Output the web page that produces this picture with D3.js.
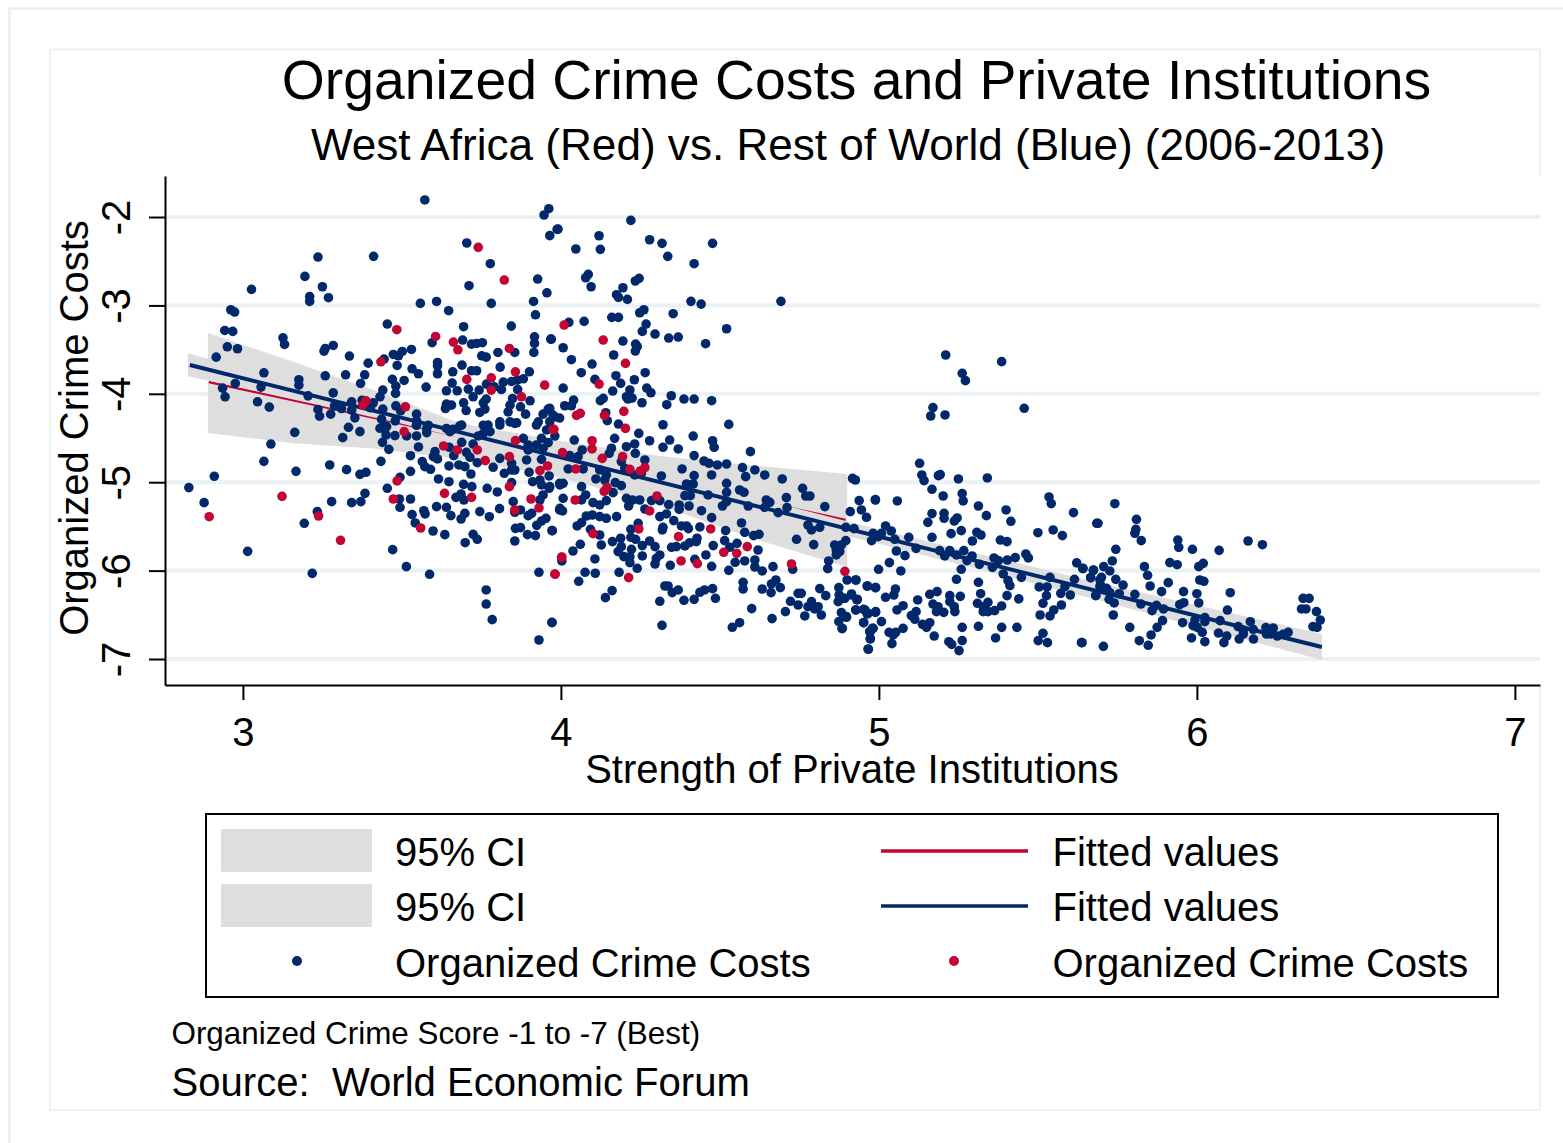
<!DOCTYPE html>
<html>
<head>
<meta charset="utf-8">
<script src="https://cdn.jsdelivr.net/npm/d3@7"></script>
<style>
	html, body { margin: 0; padding: 0; background: #fff; }
	svg { display: block; }
	text { font-family: "Liberation Sans", Arial, sans-serif; fill: #000; white-space: pre; }
</style>
</head>
<body>
<script>
// values: [strength of private institutions, organized crime costs]
const restOfWorld = [
[3.572,-1.807],[3.962,-1.906],[3.947,-1.977],[3.988,-2.14],[3.965,-2.21],[3.704,-2.294],[3.778,-2.528],[3.411,-2.445],[3.236,-2.453],[3.195,-2.672],
[3.25,-2.789],[3.21,-2.9],[3.21,-2.955],[3.269,-2.913],[3.027,-2.819],[2.962,-3.049],[2.974,-3.075],[2.943,-3.283],[2.968,-3.294],[2.951,-3.468],
[2.983,-3.49],[2.916,-3.585],[3.126,-3.366],[3.131,-3.441],[3.927,-2.702],[3.711,-2.777],[3.956,-2.857],[3.558,-2.977],[3.609,-2.955],[3.647,-3.06],
[3.781,-2.977],[3.914,-2.955],[3.92,-3.106],[3.454,-3.211],[3.694,-3.241],[3.844,-3.234],[3.691,-3.392],[3.595,-3.422],[3.719,-3.438],[3.735,-3.43],
[3.753,-3.422],[3.802,-3.532],[3.855,-3.532],[3.917,-3.355],[3.917,-3.43],[3.915,-3.532],[3.968,-3.381],[3.255,-3.517],[3.259,-3.487],[3.284,-3.453],
[3.335,-3.573],[3.394,-3.653],[3.444,-3.607],[3.473,-3.555],[3.489,-3.57],[3.501,-3.521],[3.53,-3.498],[3.485,-3.679],[3.612,-3.645],[3.612,-3.683],
[3.612,-3.773],[3.689,-3.675],[3.751,-3.57],[3.765,-3.585],[3.719,-3.739],[3.735,-3.739],[3.66,-3.751],[3.809,-3.698],[3.901,-3.751],[3.532,-3.717],
[3.552,-3.773],[3.47,-3.837],[3.507,-3.849],[3.383,-3.785],[3.323,-3.785],[3.37,-3.883],[3.259,-3.796],[3.066,-3.762],[3.176,-3.841],[3.176,-3.902],
[2.976,-3.883],[2.936,-3.936],[2.944,-4.034],[3.057,-3.924],[3.046,-4.09],[3.083,-4.151],[3.205,-4.023],[3.284,-3.989],[3.236,-4.177],[3.241,-4.253],
[3.276,-4.23],[3.288,-4.136],[3.31,-4.166],[3.342,-4.09],[3.342,-4.185],[3.352,-4.272],[3.375,-4.072],[3.401,-4.158],[3.41,-4.102],[3.431,-4.034],
[3.44,-3.958],[3.44,-4.173],[3.436,-4.287],[3.481,-3.913],[3.48,-3.996],[3.481,-4.136],[3.496,-4.192],[3.479,-4.306],[3.546,-4.23],[3.546,-4.306],
[3.576,-3.924],[3.64,-3.966],[3.658,-3.879],[3.674,-3.966],[3.709,-3.947],[3.743,-3.958],[3.724,-4.034],[3.765,-4.06],[3.64,-4.117],[3.637,-4.166],
[3.656,-4.128],[3.694,-4.102],[3.702,-4.189],[3.745,-4.211],[3.761,-4.173],[3.756,-4.102],[3.766,-3.89],[3.79,-3.92],[3.813,-3.951],[3.819,-3.868],
[3.845,-3.86],[3.863,-3.845],[3.882,-3.83],[3.864,-3.951],[3.903,-4.079],[3.848,-4.053],[3.84,-4.128],[3.834,-4.204],[3.873,-4.147],[3.889,-4.23],
[3.96,-4.173],[3.944,-4.23],[3.929,-4.317],[3.981,-4.26],[3.808,-4.317],[3.84,-4.317],[3.861,-4.328],[3.756,-4.355],[3.682,-4.362],[3.64,-4.392],
[3.546,-4.355],[3.583,-4.355],[3.441,-4.373],
[3.163,-4.436],[3.088,-4.568],[3.066,-4.764],[3.167,-4.877],[2.91,-4.933],[2.83,-5.061],[2.878,-5.231],[3.015,-5.782],[3.234,-5.333],[3.193,-5.465],
[3.218,-6.031],[3.273,-4.805],[3.326,-4.858],[3.368,-4.911],[3.387,-4.888],[3.434,-4.764],[3.314,-4.496],[3.332,-4.379],[3.368,-4.428],[3.279,-5.22],
[3.342,-5.231],[3.371,-5.22],[3.384,-5.126],[3.471,-5.763],[3.514,-5.955],[3.587,-6.042],[3.765,-6.219],[3.765,-6.378],[3.784,-6.555],[3.931,-6.019],
[3.972,-6.585],[3.931,-6.785],[3.454,-5.069],[3.494,-4.945],[3.492,-5.19],[3.494,-5.284],[3.527,-5.19],[3.527,-4.877],[3.527,-4.7],[3.552,-4.601],
[3.431,-4.39],[3.45,-4.466],[3.452,-4.371],[3.478,-4.473],[3.439,-4.549],[3.459,-4.628],[3.515,-4.477],[3.546,-4.477],[3.578,-4.439],[3.546,-4.353],
[3.604,-4.654],[3.599,-4.711],[3.612,-4.737],[3.564,-4.767],[3.572,-4.824],[3.59,-4.854],[3.648,-4.816],[3.649,-4.605],[3.663,-4.7],[3.688,-4.549],
[3.703,-4.662],[3.714,-4.718],[3.679,-4.805],[3.698,-4.824],[3.737,-4.779],[3.787,-4.831],[3.808,-4.73],[3.717,-4.907],[3.724,-4.568],[3.615,-4.963],
[3.648,-4.994],[3.694,-5.024],[3.72,-5.05],[3.768,-5.069],[3.8,-5.11],[3.686,-5.133],[3.67,-5.171],[3.695,-5.201],[3.609,-5.276],[3.64,-5.284],
[3.569,-5.322],[3.573,-5.359],[3.532,-5.367],[3.542,-5.461],[3.598,-5.552],[3.635,-5.593],[3.654,-5.378],[3.686,-5.416],[3.698,-5.352],[3.745,-5.333],
[3.775,-5.39],[3.807,-5.299],[3.85,-5.22],[3.873,-5.314],[3.855,-5.34],[3.897,-5.378],[3.908,-5.352],[3.953,-5.408],[3.939,-5.439],[3.924,-5.488],
[3.857,-5.522],[3.873,-5.514],[3.895,-5.593],[3.92,-5.604],[3.972,-5.548],[3.855,-5.665],[3.724,-5.589],[3.737,-5.646],[3.699,-5.684],[3.822,-4.899],
[3.845,-4.862],[3.855,-4.862],[3.845,-4.786],[3.845,-5.005],[3.9,-4.888],[3.892,-4.748],[3.939,-4.741],[3.963,-4.929],[3.911,-4.994],[3.934,-4.975],
[3.939,-5.031],[3.963,-5.069],[3.944,-5.144],[3.934,-5.201],[3.997,-5.031],[3.997,-5.295],[3.882,-4.503],[3.897,-4.579],[3.897,-4.635],[3.923,-4.579],
[3.944,-4.617],[3.96,-4.552],[3.939,-4.503],[3.923,-4.353],[3.955,-4.409],[3.855,-4.334],[3.808,-4.353],[3.771,-4.353],[3.756,-4.447],[3.777,-4.428],
[3.74,-4.477],[3.688,-4.353],[3.661,-4.402],[3.651,-4.428],[3.578,-4.39],
[4.22,-2.038],[3.991,-2.136],[4.12,-2.212],[4.279,-2.257],[4.318,-2.298],[4.477,-2.298],[4.047,-2.362],[4.124,-2.366],[4.336,-2.445],[4.419,-2.528],
[4.086,-2.649],[4.078,-2.687],[4.095,-2.789],[4.246,-2.694],[4.234,-2.724],[4.195,-2.8],[4.175,-2.879],[4.181,-2.909],[4.209,-2.932],[4.409,-2.954],
[4.441,-2.985],[4.692,-2.954],[4.261,-3.049],[4.248,-3.083],[4.353,-3.094],[4.16,-3.135],[4.181,-3.135],[4.025,-3.192],[4.073,-3.181],[4.268,-3.211],
[4.256,-3.294],[4.296,-3.324],[4.339,-3.369],[4.369,-3.358],[4.521,-3.264],[4.455,-3.433],[3.97,-3.381],[4.007,-3.479],[4.195,-3.403],[4.235,-3.437],
[4.24,-3.467],[4.234,-3.516],[4.166,-3.561],[4.033,-3.614],[4.098,-3.663],[4.064,-3.761],[4.107,-3.837],[4.173,-3.795],[4.265,-3.761],[4.231,-3.841],
[4.188,-3.882],[4.007,-3.935],[4.163,-3.969],[4.217,-3.957],[4.27,-3.935],[4.283,-3.988],[4.206,-4.033],[4.224,-4.048],[4.211,-4.059],[4.255,-4.101],
[4.347,-4.022],[4.387,-4.059],[4.419,-4.059],[4.474,-4.078],[4.333,-4.123],[4.133,-4.052],[4.124,-4.078],[4.04,-4.071],[4.012,-4.135],[4.033,-4.135],
[3.965,-4.165],[3.975,-4.24],[3.996,-4.274],[3.965,-4.316],[3.981,-4.478],[4.146,-4.304],[4.181,-4.342],[4.141,-4.214],[4.321,-4.35],[4.528,-4.346],
[4.245,-4.448],[4.042,-4.523],[4.169,-4.504],[4.279,-4.531],[4.342,-4.523],[4.416,-4.478],[4.477,-4.531],
[4.321,-4.605],[4.369,-4.624],[4.482,-4.605],[4.596,-4.654],[4.419,-4.699],[4.45,-4.76],[4.466,-4.786],[4.492,-4.805],[4.521,-4.794],[4.381,-4.85],
[4.571,-4.835],[4.61,-4.861],[4.641,-4.918],[4.581,-4.937],[4.474,-4.918],[4.419,-4.926],[4.316,-4.929],[4.696,-4.963],[4.521,-5.012],[4.395,-5.02],
[4.416,-5.02],[4.562,-5.088],[4.576,-5.114],[4.521,-5.114],[4.39,-5.152],[4.407,-5.152],[4.463,-5.144],[4.76,-5.069],[4.77,-5.156],[4.783,-5.156],
[4.709,-5.174],[4.646,-5.201],[4.657,-5.227],[4.83,-5.276],[4.711,-5.288],[4.641,-5.284],[4.683,-5.344],[4.589,-5.269],[4.521,-5.22],[4.508,-5.269],
[4.442,-5.322],[4.403,-5.269],[4.372,-5.257],[4.372,-5.307],[4.339,-5.254],[4.474,-5.401],[4.568,-5.461],[4.578,-5.567],[4.518,-5.548],[4.437,-5.506],
[4.379,-5.495],[4.395,-5.495],[4.401,-5.525],[4.355,-5.435],[4.332,-5.359],[4.311,-5.389],[4.321,-5.51],[4.319,-5.54],[4.243,-5.465],[4.22,-5.533],
[4.22,-5.623],[4.235,-5.646],[4.188,-5.634],[4.162,-5.672],[4.122,-5.597],[4.093,-5.533],[4.065,-5.457],[4.051,-5.495],[4.127,-5.71],[4.061,-5.702],
[4.038,-5.778],[4.003,-5.891],[4.107,-5.868],[4.19,-5.729],[4.18,-5.785],[4.222,-5.759],[4.198,-5.842],[4.217,-5.842],[4.256,-5.717],[4.256,-5.834],
[4.279,-5.665],[4.296,-5.729],[4.311,-5.823],[4.3,-5.861],[4.296,-5.925],[4.344,-5.94],[4.348,-5.736],[4.363,-5.729],[4.39,-5.721],[4.405,-5.684],
[4.428,-5.634],[4.426,-5.672],[4.479,-5.717],[4.515,-5.661],[4.531,-5.736],[4.554,-5.691],[4.62,-5.767],[4.456,-5.823],[4.421,-5.872],[4.474,-5.951],
[4.548,-5.906],[4.578,-5.891],[4.61,-5.88],[4.61,-5.959],[4.528,-5.997],[4.633,-6.004],[4.667,-5.955],[4.24,-5.974],[4.217,-5.91],[4.183,-6.019],
[4.076,-6.019],[4.108,-6.03],[4.056,-6.121],[4.161,-6.226],[4.14,-6.306],[4.311,-6.347],[4.327,-6.174],[4.337,-6.174],[4.35,-6.249],[4.369,-6.219],
[4.387,-6.336],[4.419,-6.325],[4.437,-6.245],[4.452,-6.219],[4.477,-6.204],[4.486,-6.313],[4.573,-6.132],[4.573,-6.208],[4.633,-6.208],[4.662,-6.151],
[4.676,-6.106],[4.69,-6.193],[4.661,-6.249],[4.6,-6.43],[4.664,-6.543],[4.562,-6.589],[4.539,-6.641],[4.318,-6.619],[3.972,-6.588],[4.706,-6.464],
[4.722,-6.347],[4.746,-6.257],[4.756,-6.257],[4.746,-6.389],[4.814,-6.204],[4.833,-6.283],[4.788,-6.351],[4.777,-6.408],[4.798,-6.434],[4.767,-6.513],
[4.809,-6.408],[4.819,-6.502],[4.874,-6.193],[4.9,-6.106],[4.928,-6.106],[4.963,-6.174],[4.989,-6.193],[4.875,-6.276],[4.887,-6.313],[4.914,-6.264],
[4.931,-6.332],[4.872,-6.351],[4.882,-6.475],[4.898,-6.52],[4.874,-6.577],[4.884,-6.656],[4.928,-6.445],[4.956,-6.445],[4.966,-6.483],[4.99,-6.464],
[4.952,-6.588],[4.98,-6.652],[4.973,-6.69],[4.973,-6.77],[4.966,-6.886],[4.842,-5.891],[4.839,-5.978],[4.729,-5.985],[4.741,-5.646],[4.795,-5.706],
[4.896,-5.661],[4.861,-5.71],[4.882,-5.71],[4.866,-5.766],[4.877,-5.785],[4.866,-5.823],[4.777,-5.484],[4.788,-5.54],[4.814,-5.51],[4.896,-5.51],
[4.922,-5.525],[4.982,-5.578],[4.977,-5.661],[4.998,-5.616],[4.91,-5.333],[4.945,-5.314],[4.961,-5.397],[4.938,-5.208],[4.989,-5.197],[4.917,-4.956],
[4.926,-4.975],[4.606,-5.604],[4.623,-5.589],[4.175,-5.389],[4.143,-5.408],[4.122,-5.389],[4.099,-5.371],[4.08,-5.382],[4.007,-5.182],[3.996,-5.314],
[4.005,-5.325],[3.973,-5.548],[4.143,-5.208],[4.122,-5.257],[4.101,-5.231],[4.206,-5.182],[4.225,-5.201],[4.248,-5.201],[4.213,-5.269],[4.264,-5.303],
[4.285,-5.208],[4.311,-5.208],[4.078,-5.144],[4.065,-5.2],[4.065,-5.05],[4.007,-5.012],[3.996,-5.012],[3.965,-5.05],[4.11,-4.963],[4.143,-4.918],
[4.138,-4.975],[4.171,-5.005],[4.19,-5.039],[4.164,-5.118],[4.023,-4.85],[4.07,-4.85],[4.122,-4.861],[4.054,-4.711],[4.028,-4.699],[4.067,-4.635],
[4.159,-4.616],[4.152,-4.673],[4.206,-4.598],[4.232,-4.567],[4.234,-4.673],[4.19,-4.767],[4.201,-4.843],[4.264,-4.748],[4.232,-4.918],[4.253,-4.899],
[5.21,-3.561],[5.386,-3.636],[5.262,-3.768],[5.272,-3.851],[5.17,-4.156],[5.163,-4.251],[5.208,-4.239],[5.457,-4.164],[5.128,-4.786],[5.135,-4.918],
[5.142,-4.982],[5.187,-4.926],[5.193,-4.914],[5.25,-4.963],[5.341,-4.952],[5.167,-5.08],[5.202,-5.156],[5.262,-5.129],[5.265,-5.212],[4.989,-5.201],
[5.058,-5.212],[5.313,-5.269],[5.338,-5.378],[5.4,-5.314],[5.415,-5.442],[5.535,-5.167],[5.542,-5.242],[5.612,-5.344],[5.685,-5.465],[5.167,-5.355],
[5.205,-5.352],[5.205,-5.408],[5.154,-5.454],[5.246,-5.404],[5.237,-5.439],[5.259,-5.548],[5.227,-5.582],[5.308,-5.567],[5.321,-5.597],[5.294,-5.665],
[5.167,-5.623],[5.382,-5.654],[5.403,-5.672],[5.5,-5.571],[5.548,-5.54],[5.577,-5.604],[5.021,-5.495],[5.039,-5.552],[5.008,-5.578],[5.094,-5.623],
[5.05,-5.646],[5.055,-5.778],[5.082,-5.831],[5.117,-5.748],[5.191,-5.774],[5.207,-5.834],[5.223,-5.774],[5.244,-5.823],[5.267,-5.774],[5.293,-5.834],
[5.277,-5.887],[5.316,-5.929],[5.362,-5.857],[5.376,-5.887],[5.357,-5.963],[5.404,-5.88],[5.429,-5.853],[5.462,-5.812],[5.47,-5.857],[5.391,-6.038],
[5.448,-6.076],[5.259,-5.985],[5.244,-6.098],[5.313,-6.132],[5.32,-6.261],[5.406,-6.113],[5.412,-6.17],[5.403,-6.283],[5.44,-6.32],[5.386,-6.4],
[5.343,-6.359],[5.31,-6.37],[5.328,-6.408],[5.364,-6.453],[5.328,-6.464],[5.343,-6.464],[5.256,-6.291],[5.223,-6.283],[5.223,-6.351],[5.237,-6.408],
[5.239,-6.464],[5.204,-6.472],[5.186,-6.408],[5.17,-6.378],[5.181,-6.464],[5.183,-6.238],[5.16,-6.268],[5.122,-6.332],[5.117,-6.464],[5.102,-6.509],
[5.113,-6.551],[5.16,-6.589],[5.137,-6.608],[5.15,-6.642],[5.174,-6.74],[5.262,-6.642],[5.313,-6.63],[5.386,-6.642],[5.434,-6.642],[5.367,-6.762],
[5.262,-6.792],[5.22,-6.804],[5.229,-6.834],[5.252,-6.905],[5.504,-6.185],[5.529,-6.185],[5.527,-6.283],[5.516,-6.37],[5.574,-6.389],[5.55,-6.445],
[5.538,-6.513],[5.507,-6.502],[5.572,-6.257],[5.585,-6.181],[5.602,-6.276],[5.538,-6.076],[5.615,-6.098],[5.622,-5.913],[5.641,-5.978],[5.675,-5.993],
[5.666,-6.08],[5.682,-6.283],[5.516,-6.709],[5.501,-6.792],[5.53,-6.815],[5.637,-6.815],[5.695,-6.106],[5.695,-6.181],[4.927,-6.106],[4.964,-6.174],
[4.99,-6.192],[5.021,-6.302],[5.047,-6.276],[5.052,-6.208],[5.076,-6.397],[5.057,-6.445],[4.999,-5.985],[5.033,-5.91],[5.069,-6.004],[4.914,-6.276],
[4.932,-6.324],[4.893,-6.313],[4.927,-6.445],[4.952,-6.438],[4.963,-6.491],[4.989,-6.472],[4.898,-6.528],[4.952,-6.589],[5.008,-6.577],[4.982,-6.653],
[4.971,-6.691],[4.973,-6.773],[4.967,-6.89],[5.032,-6.698],[5.053,-6.698],[5.076,-6.653],[5.041,-6.826],[5.045,-6.728],[4.885,-6.653],
[5.742,-5.243],[5.689,-5.465],[5.81,-5.42],[5.808,-5.533],[5.805,-5.578],[5.825,-5.661],[5.94,-5.654],[5.943,-5.737],[5.986,-5.759],[6.07,-5.771],
[6.161,-5.665],[6.206,-5.707],[5.745,-5.759],[5.734,-5.891],[5.915,-5.91],[5.938,-5.933],[6.02,-5.918],[6.006,-5.955],[5.835,-5.955],[5.845,-6.053],
[5.642,-5.974],[5.674,-5.997],[5.707,-5.955],[5.726,-6.004],[5.666,-6.08],[5.7,-6.076],[5.745,-6.099],[5.697,-6.163],[5.716,-6.2],[5.768,-6.163],
[5.91,-6.136],[6.009,-6.106],[6.022,-6.121],[5.853,-6.174],[5.889,-6.238],[5.958,-6.238],[6.0,-6.261],[6.105,-6.25],[5.682,-6.28],[5.726,-6.25],
[5.756,-6.261],[5.805,-6.268],[5.724,-6.325],[5.74,-6.366],[5.824,-6.378],[5.873,-6.393],[5.859,-6.453],[5.895,-6.434],[5.946,-6.385],[5.959,-6.363],
[6.006,-6.366],[6.096,-6.446],[6.334,-6.314],[6.353,-6.314],[6.329,-6.434],[6.343,-6.434],[6.376,-6.464],[6.388,-6.559],[6.365,-6.634],[6.378,-6.642],
[5.737,-6.502],[5.892,-6.566],[5.955,-6.589],[5.789,-6.642],[5.875,-6.642],[5.994,-6.559],[6.025,-6.532],[6.025,-6.578],[6.073,-6.566],[5.988,-6.623],
[6.001,-6.642],[6.017,-6.698],[6.068,-6.706],[6.094,-6.74],[6.13,-6.634],[6.168,-6.578],[6.146,-6.672],[6.177,-6.664],[6.146,-6.717],[6.133,-6.774],
[6.178,-6.774],[6.217,-6.645],[6.24,-6.649],[6.219,-6.717],[6.232,-6.717],[6.253,-6.74],[6.271,-6.721],[6.287,-6.698],[5.983,-6.762],[6.025,-6.804],
[6.085,-6.815],[5.856,-6.728],[5.819,-6.793],[5.847,-6.845],[5.706,-6.857],[5.639,-6.815]
]
const westAfrica = [
[3.74,-2.343],[3.822,-2.713],[3.484,-3.275],[3.606,-3.351],[3.662,-3.415],[3.676,-3.502],[3.838,-3.487],[3.434,-3.638],[3.857,-3.751],[3.704,-3.837],
[3.781,-3.819],[3.781,-3.958],[3.949,-3.902],[3.876,-4.034],[3.511,-4.147],[3.387,-4.079],[3.377,-4.128],[3.507,-4.428],[3.631,-4.59],[3.674,-4.635],
[3.737,-4.635],[3.762,-4.756],[3.838,-4.711],[3.857,-4.53],[3.978,-4.402],[3.958,-4.816],[3.934,-4.869],[3.485,-4.986],[3.123,-5.16],[2.894,-5.39],
[3.238,-5.382],[3.307,-5.657],[3.473,-5.19],[3.559,-5.518],[3.634,-5.126],[3.719,-5.171],[3.838,-5.05],[3.906,-5.19],[3.931,-5.291],[3.855,-5.314],
[3.982,-6.042],[4.002,-5.85],[4.01,-3.222],[4.133,-3.392],[4.203,-3.656],[4.12,-3.89],[4.198,-4.199],[4.061,-4.221],[4.049,-4.244],[4.137,-4.244],
[4.203,-4.391],[3.975,-4.402],[4.098,-4.531],[4.005,-4.665],[4.098,-4.624],[4.13,-4.73],[4.194,-4.711],[4.047,-4.85],[4.217,-4.854],[4.25,-4.873],
[4.264,-4.835],[4.145,-5.058],[4.136,-5.103],[4.045,-5.201],[4.302,-5.156],[4.279,-5.325],[4.245,-5.529],[4.101,-5.582],[4.37,-5.616],[4.471,-5.529],
[4.512,-5.793],[4.553,-5.804],[4.586,-5.729],[4.378,-5.891],[4.429,-5.921],[4.725,-5.925],[4.003,-5.846],[3.981,-6.038],[4.213,-6.079],[4.893,-6.008]
]

// fitted lines, two ends each
const fitBlueX = [2.833, 6.393]
const fitBlueY = [-3.674, -6.864]
const fitRedX = [2.893, 4.895]
const fitRedY = [-3.866, -5.427]

// confidence bands
const ciBlueX = [2.827, 3.494, 4.123, 4.437, 4.74, 5.003, 5.695, 6.393]
const ciBlueHi = [-3.54, -4.198, -4.768, -5.028, -5.294, -5.539, -6.139, -6.717]
const ciBlueLo = [-3.8, -4.334, -4.888, -5.194, -5.474, -5.699, -6.339, -7.011]
const ciRedX = [2.89, 3.16, 3.41, 3.68, 3.98, 4.31, 4.59, 4.9]
const ciRedHi = [-3.312, -3.64, -3.957, -4.33, -4.523, -4.704, -4.805, -4.907]
const ciRedLo = [-4.443, -4.56, -4.62, -4.74, -4.93, -5.26, -5.62, -5.96]

const xTicks = [3, 4, 5, 6, 7]
const yTicks = [-2, -3, -4, -5, -6, -7]
const xLimits = [2.755, 7.079]
const yLimits = [-7.294, -1.536]

const titleText = 'Organized Crime Costs and Private Institutions'
const subtitleText = 'West Africa (Red) vs. Rest of World (Blue) (2006-2013)'
const xTitle = 'Strength of Private Institutions'
const yTitle = 'Organized Crime Costs'
const noteText = 'Organized Crime Score -1 to -7 (Best)'
const sourceText = 'Source:  World Economic Forum'

const navy = '#00286b'
const cranberry = '#c10534'
const ciGrey = '#dedede'
const frameBlue = '#eaf2f3'

const svg = d3.select('body').append('svg').attr('width', 1563).attr('height', 1143)

// outer and inner frames
svg.append('path').attr('d', 'M1563,8.5H9.5V1143').attr('fill', 'none')
	.attr('stroke', frameBlue).attr('stroke-width', 3)
svg.append('rect').attr('x', 50).attr('y', 49.5).attr('width', 1490).attr('height', 1060.5)
	.attr('fill', '#fff').attr('stroke', frameBlue).attr('stroke-width', 2)

// plot area
const x = d3.scaleLinear().domain(xLimits).range([165, 1540])
const y = d3.scaleLinear().domain(yLimits).range([685, 176])

svg.append('rect').attr('x', 165).attr('y', 176).attr('width', 1377).attr('height', 509).attr('fill', '#fff')

svg.selectAll('.grid').data(yTicks).enter().append('line')
	.attr('class', 'grid')
	.attr('x1', 165).attr('x2', 1540)
	.attr('y1', d => y(d)).attr('y2', d => y(d))
	.attr('stroke', frameBlue).attr('stroke-width', 4)

let band = function(xs, hi, lo) {
	let pts = xs.map((d, i) => i)
	return d3.area().x(i => x(xs[i])).y0(i => y(lo[i])).y1(i => y(hi[i]))(pts)
}
let fitLine = function(xs, ys, color, w) {
	svg.append('line')
		.attr('x1', x(xs[0])).attr('y1', y(ys[0]))
		.attr('x2', x(xs[1])).attr('y2', y(ys[1]))
		.attr('stroke', color).attr('stroke-width', w)
}

// the blue band goes over the red line, only its two ends show
svg.append('path').attr('d', band(ciRedX, ciRedHi, ciRedLo)).attr('fill', ciGrey)
fitLine(fitRedX, fitRedY, cranberry, 2.5)
svg.append('path').attr('d', band(ciBlueX, ciBlueHi, ciBlueLo)).attr('fill', ciGrey)
fitLine(fitBlueX, fitBlueY, navy, 4)

svg.append('g').selectAll('circle').data(restOfWorld).enter().append('circle')
	.attr('cx', d => x(d[0])).attr('cy', d => y(d[1])).attr('r', 4.8).attr('fill', navy)
svg.append('g').selectAll('circle').data(westAfrica).enter().append('circle')
	.attr('cx', d => x(d[0])).attr('cy', d => y(d[1])).attr('r', 4.8).attr('fill', cranberry)

// axes
const xAxis = svg.append('g').attr('transform', 'translate(0,685)')
	.call(d3.axisBottom(x).tickValues(xTicks).tickSize(15).tickSizeOuter(0).tickPadding(18).tickFormat(d => String(d)))
xAxis.selectAll('text').attr('font-size', 40).style('font-family', '"Liberation Sans"')
const yAxis = svg.append('g').attr('transform', 'translate(165,0)')
	.call(d3.axisLeft(y).tickValues(yTicks).tickSize(16).tickSizeOuter(0).tickPadding(0).tickFormat(d => String(d)))
yAxis.selectAll('text')
	.attr('font-size', 40).style('font-family', '"Liberation Sans"')
	.attr('text-anchor', 'middle').attr('dy', 0).attr('x', 0)
	.attr('transform', 'translate(-35,0) rotate(-90)')
svg.selectAll('.domain, .tick line').attr('stroke', '#000').attr('stroke-width', 2)

// titles
svg.append('text').attr('x', 856.5).attr('y', 99).attr('text-anchor', 'middle').attr('font-size', 55.3).text(titleText)
svg.append('text').attr('x', 848).attr('y', 160).attr('text-anchor', 'middle').attr('font-size', 44.1).text(subtitleText)
svg.append('text').attr('x', 852).attr('y', 783).attr('text-anchor', 'middle').attr('font-size', 40).text(xTitle)
svg.append('text').attr('transform', 'translate(88,428) rotate(-90)').attr('text-anchor', 'middle').attr('font-size', 40).text(yTitle)

// legend
const legend = svg.append('g')
legend.append('rect').attr('x', 206).attr('y', 814).attr('width', 1292).attr('height', 183)
	.attr('fill', '#fff').attr('stroke', '#000').attr('stroke-width', 2)
let legendRows = [866, 921, 977]
;[829, 884].forEach(t => {
	legend.append('rect').attr('x', 221).attr('y', t).attr('width', 151).attr('height', 43).attr('rx', 1).attr('fill', ciGrey)
})
legend.append('line').attr('x1', 881).attr('x2', 1028).attr('y1', 851).attr('y2', 851).attr('stroke', cranberry).attr('stroke-width', 3.5)
legend.append('line').attr('x1', 881).attr('x2', 1028).attr('y1', 906).attr('y2', 906).attr('stroke', navy).attr('stroke-width', 3.5)
legend.append('circle').attr('cx', 297).attr('cy', 961).attr('r', 5).attr('fill', navy)
legend.append('circle').attr('cx', 954).attr('cy', 961).attr('r', 5).attr('fill', cranberry)
legend.append('text').attr('x', 395).attr('y', legendRows[0]).attr('font-size', 40).text('95% CI')
legend.append('text').attr('x', 395).attr('y', legendRows[1]).attr('font-size', 40).text('95% CI')
legend.append('text').attr('x', 395).attr('y', legendRows[2]).attr('font-size', 40).text(yTitle)
legend.append('text').attr('x', 1052.5).attr('y', legendRows[0]).attr('font-size', 40).text('Fitted values')
legend.append('text').attr('x', 1052.5).attr('y', legendRows[1]).attr('font-size', 40).text('Fitted values')
legend.append('text').attr('x', 1052.5).attr('y', legendRows[2]).attr('font-size', 40).text(yTitle)

// notes
svg.append('text').attr('x', 171.5).attr('y', 1044).attr('font-size', 31.4).text(noteText)
svg.append('text').attr('x', 171.5).attr('y', 1096).attr('font-size', 40.1).text(sourceText)
</script>
</body>
</html>
